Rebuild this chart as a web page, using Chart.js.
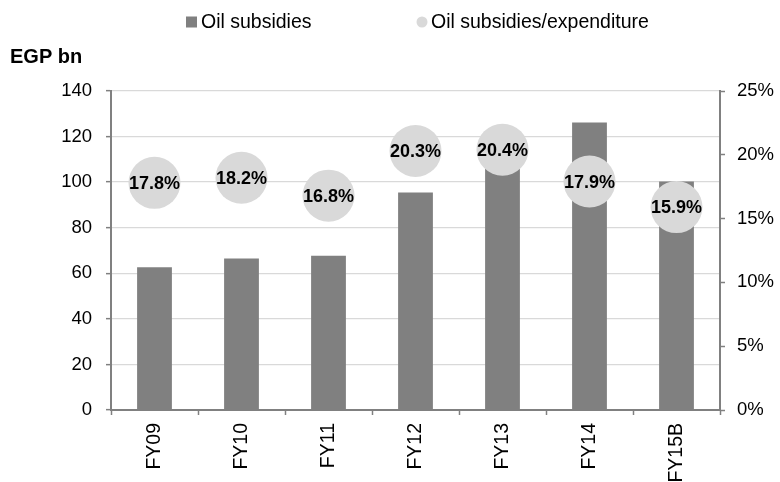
<!DOCTYPE html>
<html>
<head>
<meta charset="utf-8">
<script src="https://cdn.jsdelivr.net/npm/chart.js@4.4.1/dist/chart.umd.min.js"></script>
<style>
  html, body { margin: 0; padding: 0; background: #ffffff; }
  #wrap { width: 780px; height: 482px; position: relative; }
</style>
</head>
<body>
<div id="wrap"><canvas id="c" width="780" height="482"></canvas></div>
<script>
const categories = ['FY09', 'FY10', 'FY11', 'FY12', 'FY13', 'FY14', 'FY15B'];
const oilSubsidies = [62.7, 66.5, 67.7, 95.5, 120.0, 126.2, 100.3];
const subsidiesShare = [17.8, 18.2, 16.8, 20.3, 20.4, 17.9, 15.9];
const seriesNames = ['Oil subsidies', 'Oil subsidies/expenditure'];
const unitLabel = 'EGP bn';

const FONT = "'Liberation Sans', Arial, sans-serif";
const BAR_COLOR = '#808080';
const BUBBLE_COLOR = '#d9d9d9';
const AXIS_COLOR = '#808080';
const GRID_COLOR = '#d9d9d9';

const bubbleLabels = {
  id: 'bubbleLabels',
  afterDatasetsDraw(chart) {
    const ctx = chart.ctx;
    const meta = chart.getDatasetMeta(1);
    ctx.save();
    ctx.font = 'bold 18px ' + FONT;
    ctx.fillStyle = '#000000';
    ctx.textAlign = 'center';
    ctx.textBaseline = 'middle';
    meta.data.forEach((pt, i) => {
      ctx.fillText(subsidiesShare[i].toFixed(1) + '%', pt.x, pt.y + 1);
    });
    ctx.restore();
  }
};

const topLegend = {
  id: 'topLegend',
  afterDraw(chart) {
    const ctx = chart.ctx;
    ctx.save();
    ctx.font = '19.5px ' + FONT;
    ctx.textBaseline = 'middle';
    ctx.textAlign = 'left';
    const cy = 22;
    ctx.fillStyle = chart.data.datasets[0].backgroundColor;
    ctx.fillRect(186, cy - 5.5, 11, 11);
    ctx.fillStyle = '#000000';
    ctx.fillText(chart.data.datasets[0].label, 201, cy + 1);
    ctx.fillStyle = chart.data.datasets[1].pointBackgroundColor;
    ctx.beginPath();
    ctx.arc(422, cy, 5.5, 0, Math.PI * 2);
    ctx.fill();
    ctx.fillStyle = '#000000';
    ctx.fillText(chart.data.datasets[1].label, 431, cy + 1);
    ctx.restore();
  }
};

new Chart(document.getElementById('c'), {
  data: {
    labels: categories,
    datasets: [
      {
        type: 'bar',
        label: seriesNames[0],
        data: oilSubsidies,
        backgroundColor: BAR_COLOR,
        borderWidth: 0,
        yAxisID: 'y',
        order: 2,
        categoryPercentage: 1.0,
        barPercentage: 0.4
      },
      {
        type: 'line',
        label: seriesNames[1],
        data: subsidiesShare,
        showLine: false,
        pointRadius: 26,
        pointHoverRadius: 26,
        pointBackgroundColor: BUBBLE_COLOR,
        pointBorderWidth: 0,
        borderColor: BUBBLE_COLOR,
        backgroundColor: BUBBLE_COLOR,
        yAxisID: 'y1',
        order: 1
      }
    ]
  },
  options: {
    responsive: false,
    animation: false,
    devicePixelRatio: 1,
    layout: { padding: { left: 10, right: 0, top: 0, bottom: 0 } },
    plugins: {
      legend: { display: false },
      tooltip: { enabled: false },
      title: {
        display: true,
        text: unitLabel,
        align: 'start',
        color: '#000000',
        font: { family: FONT, size: 20, weight: 'bold', lineHeight: 1.2 },
        padding: { top: 45, bottom: 22 }
      }
    },
    scales: {
      x: {
        type: 'category',
        offset: true,
        grid: { display: true, offset: true, drawOnChartArea: false, drawTicks: true, tickLength: 5, tickColor: AXIS_COLOR, tickWidth: 1.5 },
        border: { display: true, color: AXIS_COLOR, width: 2 },
        ticks: { color: '#000000', font: { family: FONT, size: 19.5 }, minRotation: 90, maxRotation: 90, padding: 8, autoSkip: false },
        afterFit(scale) { scale.height = 72; }
      },
      y: {
        position: 'left',
        min: 0, max: 140,
        ticks: { stepSize: 20, color: '#000000', font: { family: FONT, size: 18.5 }, padding: 14 },
        grid: { color: GRID_COLOR, lineWidth: 1.3, drawTicks: true, tickLength: 5, tickColor: AXIS_COLOR, tickWidth: 1.5 },
        border: { display: true, color: AXIS_COLOR, width: 2 },
        afterFit(scale) { scale.width = 101; }
      },
      y1: {
        position: 'right',
        min: 0, max: 25,
        ticks: { stepSize: 5, color: '#000000', font: { family: FONT, size: 18.5 }, padding: 12, callback: v => v + '%' },
        grid: { drawOnChartArea: false, drawTicks: true, tickLength: 5, tickColor: AXIS_COLOR, tickWidth: 1.5 },
        border: { display: true, color: AXIS_COLOR, width: 2 },
        afterFit(scale) { scale.width = 60; }
      }
    }
  },
  plugins: [bubbleLabels, topLegend]
});
</script>
</body>
</html>
